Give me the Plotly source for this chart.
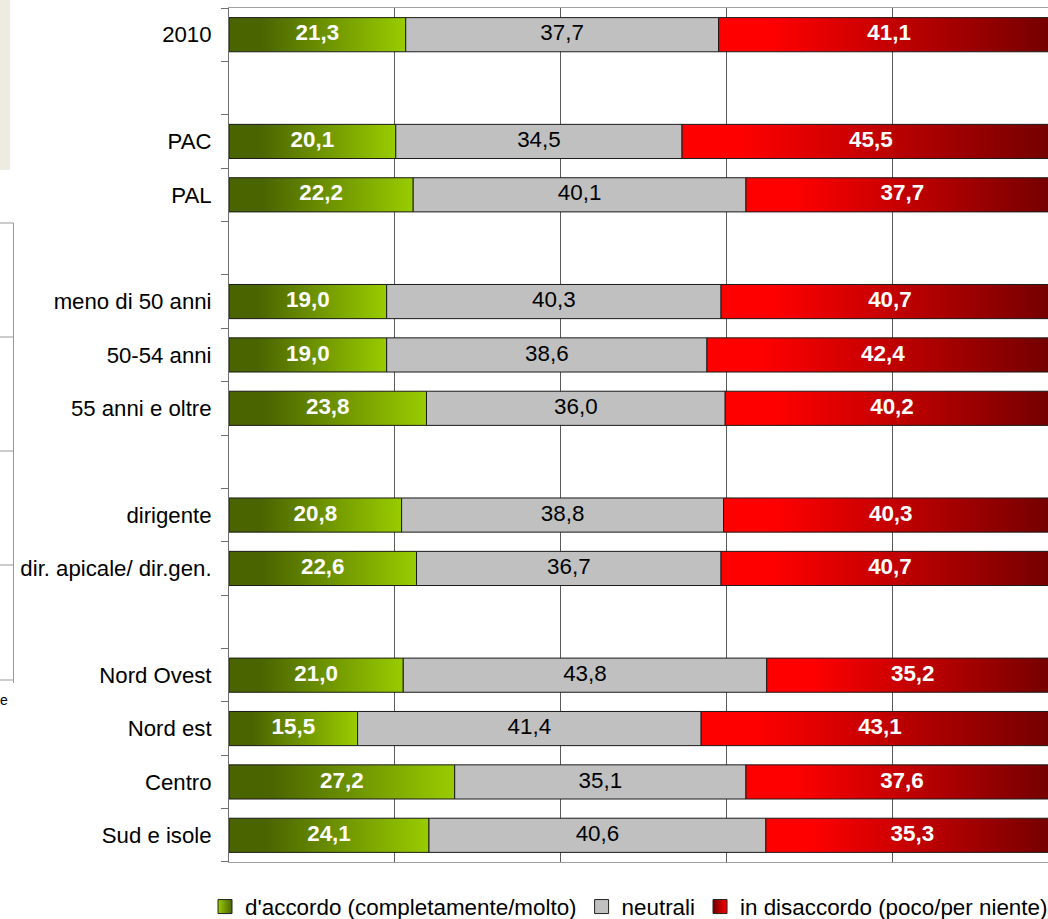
import plotly.graph_objects as go

# ---------------- data ----------------
categories = ["2010", "", "PAC", "PAL", "", "meno di 50 anni", "50-54 anni",
              "55 anni e oltre", "", "dirigente", "dir. apicale/ dir.gen.", "",
              "Nord Ovest", "Nord est", "Centro", "Sud e isole"]
accordo = [21.3, None, 20.1, 22.2, None, 19.0, 19.0, 23.8, None, 20.8, 22.6, None,
           21.0, 15.5, 27.2, 24.1]
neutrali = [37.7, None, 34.5, 40.1, None, 40.3, 38.6, 36.0, None, 38.8, 36.7, None,
            43.8, 41.4, 35.1, 40.6]
disaccordo = [41.1, None, 45.5, 37.7, None, 40.7, 42.4, 40.2, None, 40.3, 40.7, None,
              35.2, 43.1, 37.6, 35.3]
series_names = ["d'accordo (completamente/molto)", "neutrali",
                "in disaccordo (poco/per niente)"]

# ---------------- style ----------------
W, H = 1048, 919
ML, MR, MT, MB = 229, 0, 8, 57
PW, PH = W - ML - MR, H - MT - MB
FONT = "Liberation Sans, Arial, Helvetica, sans-serif"
FS = 22.2
BAR_HALF = 0.32
GREEN_SCALE = [[0, "#4a6400"], [0.18, "#4a6400"], [1, "#99cc00"]]
RED_SCALE = [[0, "#ff0000"], [0.15, "#ff0000"], [1, "#700000"]]
GRAY = "#c0c0c0"
OUTLINE = "#1a1a1a"


def fmt(v):
    return f"{v:.1f}".replace(".", ",")


fig = go.Figure()

all_series = [accordo, neutrali, disaccordo]
label_x = [[], [], []]
label_y = [[], [], []]
label_t = [[], [], []]

for i, cat in enumerate(categories):
    if accordo[i] is None:
        continue
    left = 0.0
    for s, vals in enumerate(all_series):
        v = vals[i]
        right = left + v
        xs = [left, right, right, left, left]
        ys = [i - BAR_HALF, i - BAR_HALF, i + BAR_HALF, i + BAR_HALF, i - BAR_HALF]
        kw = dict(x=xs, y=ys, mode="lines", fill="toself",
                  line=dict(color=OUTLINE, width=1), hoverinfo="skip",
                  showlegend=False, legendgroup=f"g{s}", name=series_names[s])
        if s == 0:
            kw["fillgradient"] = dict(type="horizontal", colorscale=GREEN_SCALE,
                                      start=left, stop=right)
        elif s == 2:
            kw["fillgradient"] = dict(type="horizontal", colorscale=RED_SCALE,
                                      start=left, stop=right)
        else:
            kw["fillcolor"] = GRAY
        fig.add_trace(go.Scatter(**kw))
        label_x[s].append((left + right) / 2)
        label_y[s].append(i)
        label_t[s].append(fmt(v))
        left = right

# value labels
for s in range(3):
    color = "black" if s == 1 else "white"
    weight = "normal" if s == 1 else "bold"
    fig.add_trace(go.Scatter(
        x=label_x[s], y=label_y[s], text=label_t[s], mode="text",
        textfont=dict(family=FONT, size=22.4, color=color, weight=weight),
        hoverinfo="skip", showlegend=False))

# legend entries
legend_cols = [("#4a6400", "#99cc00"), (GRAY, GRAY), ("#ff0000", "#700000")]
for s in range(3):
    c0, c1 = legend_cols[s]
    fig.add_trace(go.Scatter(
        x=[None], y=[None], mode="markers", name=series_names[s],
        legendgroup=f"g{s}",
        marker=dict(symbol="square", size=14, color=c1,
                    gradient=dict(type="horizontal", color=c0),
                    line=dict(color="#222222", width=1))))

tick_vals = [i for i, c in enumerate(categories) if c]
tick_text = [c for c in categories if c]
boundaries = [k - 0.5 for k in range(len(categories) + 1)]


def px_x(p):
    return (p - ML) / PW


def px_y(p):
    return (H - MB - p) / PH


shapes = [
    dict(type="rect", xref="paper", yref="paper", x0=px_x(-2), x1=px_x(10),
         y0=px_y(170), y1=px_y(-2), fillcolor="#eeece1", line=dict(width=0),
         layer="below"),
    dict(type="line", xref="paper", yref="paper", x0=px_x(13.5), x1=px_x(13.5),
         y0=px_y(223), y1=px_y(683), line=dict(color="#999999", width=1)),
]
for yy in [223, 337, 451, 565, 680]:
    shapes.append(dict(type="line", xref="paper", yref="paper", x0=px_x(-2),
                       x1=px_x(13.5), y0=px_y(yy), y1=px_y(yy),
                       line=dict(color="#999999", width=1)))

fig.update_layout(
    width=W, height=H,
    margin=dict(l=ML, r=MR, t=MT, b=MB, autoexpand=False),
    paper_bgcolor="white", plot_bgcolor="white",
    font=dict(family=FONT, size=FS, color="black"),
    hovermode=False,
    shapes=shapes,
    annotations=[dict(text="e", xref="paper", yref="paper", x=px_x(-2),
                      y=px_y(700), xanchor="left", yanchor="middle",
                      showarrow=False, font=dict(size=14, family=FONT))],
    xaxis=dict(range=[0, 98.7], tick0=0, dtick=20, showgrid=True,
               gridcolor="#5a5a5a", gridwidth=1, showticklabels=False,
               ticks="", zeroline=False, showline=True, linecolor="#a0a0a0",
               linewidth=1, mirror=True, fixedrange=True),
    yaxis=dict(range=[15.5001, -0.5001], tickmode="array", tickvals=tick_vals,
               ticktext=tick_text, ticks="", showgrid=False, zeroline=False,
               showline=True, linecolor="#707070", linewidth=1,
               ticklabelstandoff=12,
               tickfont=dict(family=FONT, size=FS, color="black"),
               minor=dict(tickmode="array", tickvals=boundaries, ticks="outside",
                          ticklen=7, tickcolor="#707070", showgrid=False),
               fixedrange=True),
    legend=dict(orientation="h", xref="paper", yref="paper",
                x=px_x(205), y=px_y(907), xanchor="left", yanchor="middle",
                font=dict(family=FONT, size=22.4, color="black"),
                bgcolor="rgba(0,0,0,0)", traceorder="normal"),
)

fig.write_html("out.html",
               config={"displayModeBar": False, "staticPlot": False},
               post_script="document.body.style.margin='0px';"
                           "document.body.style.overflow='hidden';")
